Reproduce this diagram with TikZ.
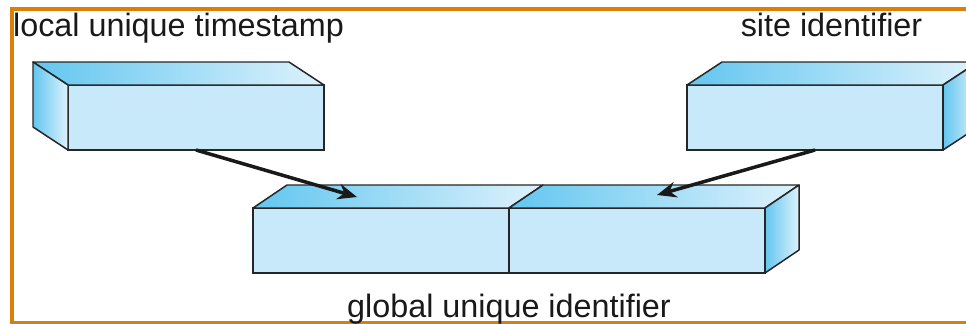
\documentclass[tikz,border=0pt]{standalone}
\usepackage{fontspec}
\setmainfont{Liberation Sans}
\usetikzlibrary{arrows.meta, positioning, calc}

\definecolor{deepblue}{RGB}{98,198,240}
\definecolor{paleblue}{RGB}{222,242,252}
\definecolor{frontblue}{RGB}{200,233,249}
\definecolor{frameorange}{RGB}{218,128,8}

\tikzset{
  frontface/.style={draw=black!85, line width=0.85pt, fill=frontblue,
    minimum width=5.12cm, minimum height=1.3cm, inner sep=0pt, outer sep=0pt},
  sideface/.style={draw=black!85, line width=0.85pt, line join=round,
    left color=deepblue, right color=paleblue},
  boxtext/.style={font=\fontsize{18.4}{22}\selectfont, text=black!90, inner sep=0pt},
  feed/.style={-{Stealth[length=11pt,width=9pt]}, line width=2pt, black!90},
}

\begin{document}
\begin{tikzpicture}
\useasboundingbox (0,0) rectangle (19.32,6.46);
\clip (0,0) rectangle (19.32,6.46);

% Frame
\draw[frameorange, line width=2.3pt] (0.234,-0.01) rectangle (19.8,6.286);

% Front faces of the three blocks
\node[frontface] (stamp) at (3.92,4.11) {};
\node[frontface] (site) at (16.30,4.11) {};
\node[frontface] (gstamp) at (7.62,1.65) {};
\node[frontface, right=0pt of gstamp] (gsite) {};

% Timestamp block, drawn in depth to the back left
\draw[sideface] (stamp.north west) -- ++(-0.7,0.46) -- ($(stamp.north east)+(-0.7,0.46)$) -- (stamp.north east) -- cycle;
\draw[sideface] (stamp.north west) -- ++(-0.7,0.46) -- ++(0,-1.3) -- (stamp.south west) -- cycle;

% Site block, depth to the back right
\draw[sideface] (site.north west) -- ++(0.7,0.46) -- ($(site.north east)+(0.7,0.46)$) -- (site.north east) -- cycle;
\draw[sideface] (site.north east) -- ++(0.7,0.46) -- ++(0,-1.3) -- (site.south east) -- cycle;

% Combined identifier
\foreach \b in {gstamp,gsite}
  \draw[sideface] (\b.north west) -- ++(0.68,0.46) -- ($(\b.north east)+(0.68,0.46)$) -- (\b.north east) -- cycle;
\draw[sideface] (gsite.north east) -- ++(0.68,0.46) -- ++(0,-1.3) -- (gsite.south east) -- cycle;

% Labels
\node[boxtext, anchor=base] (stamptext) at (3.57,5.72) {local unique timestamp};
\node[boxtext, anchor=base] (sitetext) at (16.63,5.72) {site identifier};
\node[boxtext, anchor=base] (gtext) at (10.18,0.12) {global unique identifier};

% Arrows into the combined block
\coordinate (stampin) at (7.14,2.52);
\coordinate (sitein) at (13.14,2.56);
\draw[feed] (stamp.south) -- (stampin);
\draw[feed] (site.south) -- (sitein);
\end{tikzpicture}
\end{document}
